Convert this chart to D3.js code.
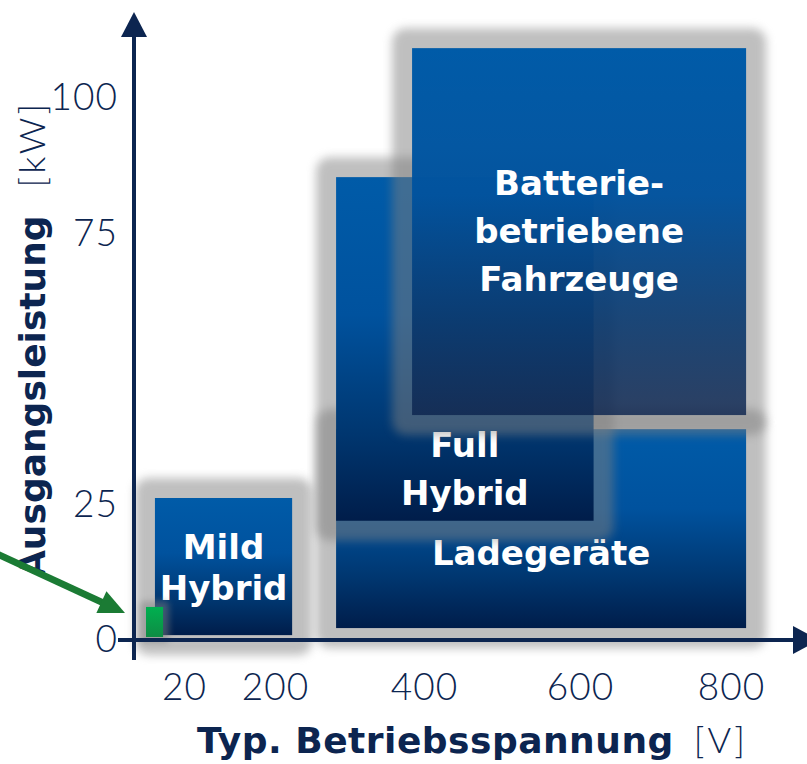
<!DOCTYPE html>
<html><head><meta charset="utf-8">
<script src="https://cdn.jsdelivr.net/npm/d3@7"></script>
<style>html,body{margin:0;padding:0;background:#fff;overflow:hidden}</style>
</head><body><svg id="chart" width="807" height="764"></svg>
<script>
// ---------- data ----------
const categories   = ["Ladegeräte", "Full Hybrid", "Batteriebetriebene Fahrzeuge", "Mild Hybrid", "12 V"];
const voltageMin   = [282, 282, 384, 8.6, 5.1];     // V
const voltageMax   = [820, 618, 820, 223, 11.8];    // V
const powerMin     = [2.2, 22.0, 41.5, 0.9, 0.55];  // kW
const powerMax     = [38.9, 85.4, 109.2, 26.2, 6.1];// kW
const boxLabels    = [["Ladegeräte"], ["Full", "Hybrid"], ["Batterie-", "betriebene", "Fahrzeuge"], ["Mild", "Hybrid"], []];
const xBreakpoints = [0, 20, 200, 400, 600, 800];
const xTickValues  = [20, 200, 400, 600, 800];
const xTickLabels  = ["20", "200", "400", "600", "800"];
const yTickValues  = [0, 25, 75, 100];
const yTickLabels  = ["0", "25", "75", "100"];
const xTitle = "Typ. Betriebsspannung", xUnit = "[V]";
const yTitle = "Ausgangsleistung", yUnit = "[kW]";

// ---------- layout / style ----------
const navy = "#0c2550";
const labelOffset = [36.5, 108, -36.5, -7.5, 0];
const lineHeight  = [48, 48, 48, 41, 0];
const fillId      = ["gBlue", "gBlue", "gBatt", "gBlue", "gGreen"];
const shadowPad   = [20, 20, 20, 20, 6];
const shadowBlur  = [5, 5, 5, 5, 3];

const svg = d3.select("#chart");
const x = d3.scaleLinear().domain(xBreakpoints).range([133, 184, 275, 424, 580, 731]);
const y = d3.scaleLinear().domain([0, 100]).range([640, 98]);

const defs = svg.append("defs");
function grad(id, stops) {
  const g = defs.append("linearGradient").attr("id", id).attr("x1", 0).attr("y1", 0).attr("x2", 0).attr("y2", 1);
  stops.forEach(s => g.append("stop").attr("offset", s[0]).attr("stop-color", s[1]).attr("stop-opacity", s[2] == null ? 1 : s[2]));
}
grad("gBlue", [[0, "#005BA8"], [0.4, "#00529E"], [0.75, "#00366F"], [1, "#001D4A"]]);
grad("gBatt", [[0, "#005BA8"], [0.4, "#00529E", 0.97], [0.75, "#05356C", 0.88], [1, "#0C244E", 0.82]]);
grad("gGreen", [[0, "#00B050"], [1, "#0E8C44"]]);
[3, 5].forEach(sd => {
  defs.append("filter").attr("id", "blur" + sd).attr("filterUnits", "userSpaceOnUse")
    .attr("x", 0).attr("y", 0).attr("width", 807).attr("height", 764)
    .append("feGaussianBlur").attr("stdDeviation", sd);
});

const idx = d3.range(categories.length);
const boxes = svg.append("g");
idx.forEach(i => {
  const x0 = x(voltageMin[i]), x1 = x(voltageMax[i]);
  const y0 = y(powerMax[i]), y1 = y(powerMin[i]);
  const p = shadowPad[i];
  boxes.append("rect")
    .attr("x", x0 - p).attr("y", y0 - p).attr("width", x1 - x0 + 2 * p).attr("height", y1 - y0 + 2 * p)
    .attr("rx", p * 0.7).attr("fill", "#808080").attr("opacity", 0.5)
    .attr("filter", `url(#blur${shadowBlur[i]})`);
  boxes.append("rect")
    .attr("x", x0).attr("y", y0).attr("width", x1 - x0).attr("height", y1 - y0)
    .attr("fill", `url(#${fillId[i]})`);
  const cx = (x0 + x1) / 2, cy = (y0 + y1) / 2;
  boxLabels[i].forEach((t, k) => {
    boxes.append("text").attr("x", cx).attr("y", cy + labelOffset[i] + k * lineHeight[i])
      .attr("text-anchor", "middle").attr("fill", "#fff")
      .attr("font-family", "DejaVu Sans, Verdana, sans-serif").attr("font-weight", "bold")
      .attr("font-size", 34).text(t);
  });
});

// ---------- axes ----------
const ax = svg.append("g");
const xAxisY = y(0), yAxisX = x(0) + 1;
ax.append("line").attr("x1", yAxisX).attr("x2", yAxisX).attr("y1", xAxisY + 20).attr("y2", 36)
  .attr("stroke", navy).attr("stroke-width", 4);
ax.append("path").attr("d", `M${yAxisX},12 L${yAxisX + 13},37 L${yAxisX - 13},37 Z`).attr("fill", navy);
ax.append("line").attr("x1", yAxisX - 16).attr("x2", 794).attr("y1", xAxisY).attr("y2", xAxisY)
  .attr("stroke", navy).attr("stroke-width", 4);
ax.append("path").attr("d", `M819,${xAxisY} L793,${xAxisY - 14} L793,${xAxisY + 14} Z`).attr("fill", navy);

const tickFont = "Lato, 'Open Sans', sans-serif";
const yAxis = d3.axisLeft(y).tickValues(yTickValues).tickFormat((d, i) => yTickLabels[i]).tickSize(0).tickPadding(16);
const gy = svg.append("g").attr("transform", `translate(${yAxisX},0)`).call(yAxis);
const xAxis = d3.axisBottom(x).tickValues(xTickValues).tickFormat((d, i) => xTickLabels[i]).tickSize(0).tickPadding(34);
const gx = svg.append("g").attr("transform", `translate(0,${xAxisY})`).call(xAxis);
[gx, gy].forEach(g => {
  g.select(".domain").remove();
  g.selectAll("text").attr("font-family", tickFont).attr("font-weight", 300)
    .attr("font-size", 37).attr("letter-spacing", 1).attr("fill", navy);
});

// ---------- titles ----------
const xt = svg.append("text").attr("x", 197).attr("y", 753).attr("fill", navy).attr("font-size", 36);
xt.append("tspan").attr("font-family", "DejaVu Sans, Verdana, sans-serif").attr("font-weight", "bold")
  .attr("letter-spacing", 0.5).text(xTitle);
xt.append("tspan").attr("dx", 20).attr("font-family", tickFont).attr("font-weight", 300)
  .attr("letter-spacing", 3).text(xUnit);

const yt = svg.append("text").attr("transform", "translate(45,578) rotate(-90)").attr("fill", navy).attr("font-size", 36);
yt.append("tspan").attr("font-family", "DejaVu Sans, Verdana, sans-serif").attr("font-weight", "bold").text(yTitle);
yt.append("tspan").attr("dx", 28).attr("font-family", tickFont).attr("font-weight", 300)
  .attr("letter-spacing", 3).text(yUnit);

// ---------- annotation arrow to the 12 V bar ----------
const gi = 4;
const tipX = x(voltageMin[gi]) - 21, tipY = y(powerMax[gi]) + 6;
const sx = -5, sy = tipY - 60;
const len = Math.hypot(tipX - sx, tipY - sy), ux = (tipX - sx) / len, uy = (tipY - sy) / len;
const hb = 26, hw = 12;
const bx = tipX - hb * ux, by = tipY - hb * uy;
svg.append("line").attr("x1", sx).attr("y1", sy).attr("x2", bx + 2 * ux).attr("y2", by + 2 * uy)
  .attr("stroke", "#1B7B34").attr("stroke-width", 7);
svg.append("path")
  .attr("d", `M${tipX},${tipY} L${bx - hw * uy},${by + hw * ux} L${bx + hw * uy},${by - hw * ux} Z`)
  .attr("fill", "#1B7B34");
</script>
</body></html>
